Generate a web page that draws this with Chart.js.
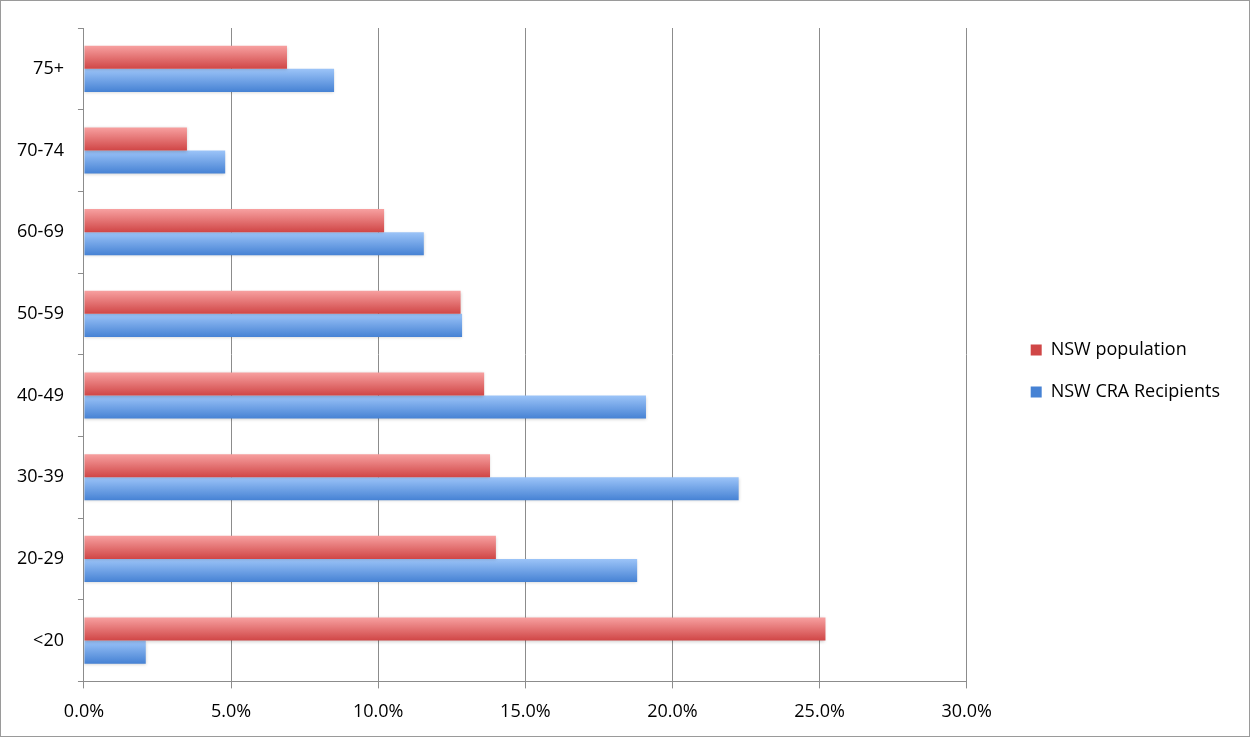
<!DOCTYPE html>
<html>
<head>
<meta charset="utf-8">
<script src="https://cdn.jsdelivr.net/npm/chart.js@4"></script>
<style>
  html, body { margin: 0; padding: 0; background: #fff; }
  #wrap {
    width: 1250px; height: 737px; box-sizing: border-box;
    border: 1px solid #9a9a9a; position: relative;
  }
  #chart { display: block; }
</style>
</head>
<body>
<div id="wrap"><canvas id="chart" width="1248" height="735"></canvas></div>
<script>
const ageGroups = ['75+', '70-74', '60-69', '50-59', '40-49', '30-39', '20-29', '<20'];
const nswPopulation = [6.9, 3.5, 10.2, 12.8, 13.6, 13.8, 14.0, 25.2];
const craRecipients = [8.5, 4.8, 11.55, 12.85, 19.1, 22.25, 18.8, 2.1];
const xTicks = [0, 5, 10, 15, 20, 25, 30];

const fontFamily = "'Open Sans', 'DejaVu Sans', sans-serif";
const axisGrey = '#8c8c8c';

// vertical gradient for every bar, lighter on top, darker at the bottom
const barGradients = {
  id: 'barGradients',
  afterLayout(chart) {
    // legend sits a little above the middle in the original
    if (chart.legend) {
      chart.legend.top -= 11;
      chart.legend.bottom -= 11;
    }
  },
  beforeDatasetsDraw(chart) {
    const ctx = chart.ctx;
    chart.data.datasets.forEach((ds, i) => {
      const meta = chart.getDatasetMeta(i);
      meta.data.forEach(bar => {
        const top = bar.y - bar.height / 2;
        const bottom = bar.y + bar.height / 2;
        const g = ctx.createLinearGradient(0, top, 0, bottom);
        g.addColorStop(0, ds.gradTop);
        g.addColorStop(1, ds.gradBottom);
        bar.options.backgroundColor = g;
      });
    });
    ctx.save();
    ctx.shadowColor = 'rgba(0,0,0,0.18)';
    ctx.shadowBlur = 3;
    ctx.shadowOffsetY = 1;
  },
  afterDatasetsDraw(chart) {
    chart.ctx.restore();
  }
};

new Chart(document.getElementById('chart').getContext('2d'), {
  type: 'bar',
  data: {
    labels: ageGroups,
    datasets: [
      {
        label: 'NSW population',
        data: nswPopulation,
        // scriptable so each bar gets its own options object
        backgroundColor: c => '#e06464',
        gradTop: '#f7a0a0',
        gradBottom: '#d04646',
        categoryPercentage: 0.565,
        barPercentage: 1.0
      },
      {
        label: 'NSW CRA Recipients',
        data: craRecipients,
        backgroundColor: c => '#6a9ee6',
        gradTop: '#9cc4f8',
        gradBottom: '#4682d4',
        categoryPercentage: 0.565,
        barPercentage: 1.0
      }
    ]
  },
  options: {
    indexAxis: 'y',
    responsive: false,
    animation: false,
    layout: { padding: { top: 27, left: 2, right: 19, bottom: 0 } },
    scales: {
      x: {
        min: 0,
        max: 30,
        afterBuildTicks: axis => { axis.ticks = xTicks.map(v => ({ value: v })); },
        grid: {
          color: axisGrey,
          lineWidth: 1,
          tickLength: 7,
          drawTicks: true
        },
        border: { color: axisGrey },
        ticks: {
          color: '#000',
          padding: 13,
          font: { family: fontFamily, size: 18 },
          callback: v => Number(v).toFixed(1) + '%'
        }
      },
      y: {
        grid: {
          offset: true,
          drawOnChartArea: false,
          color: axisGrey,
          tickLength: 6
        },
        border: { color: axisGrey },
        ticks: {
          color: '#000',
          padding: 14,
          font: { family: fontFamily, size: 18 }
        }
      },
      // empty right axis, only keeps space between plot and legend
      gap: {
        axis: 'y',
        position: 'right',
        grid: { display: false },
        border: { display: false },
        ticks: { display: false },
        afterFit: a => { a.width = 40; }
      }
    },
    plugins: {
      legend: {
        position: 'right',
        align: 'center',
        maxWidth: 300,
        labels: {
          color: '#000',
          boxWidth: 11,
          boxHeight: 11,
          padding: 24,
          font: { family: fontFamily, size: 18 },
          generateLabels: chart => chart.data.datasets.map((ds, i) => ({
            text: ds.label,
            fillStyle: ds.gradBottom,
            strokeStyle: ds.gradBottom,
            lineWidth: 0,
            datasetIndex: i
          }))
        }
      },
      tooltip: { enabled: false }
    }
  },
  plugins: [barGradients]
});
</script>
</body>
</html>
